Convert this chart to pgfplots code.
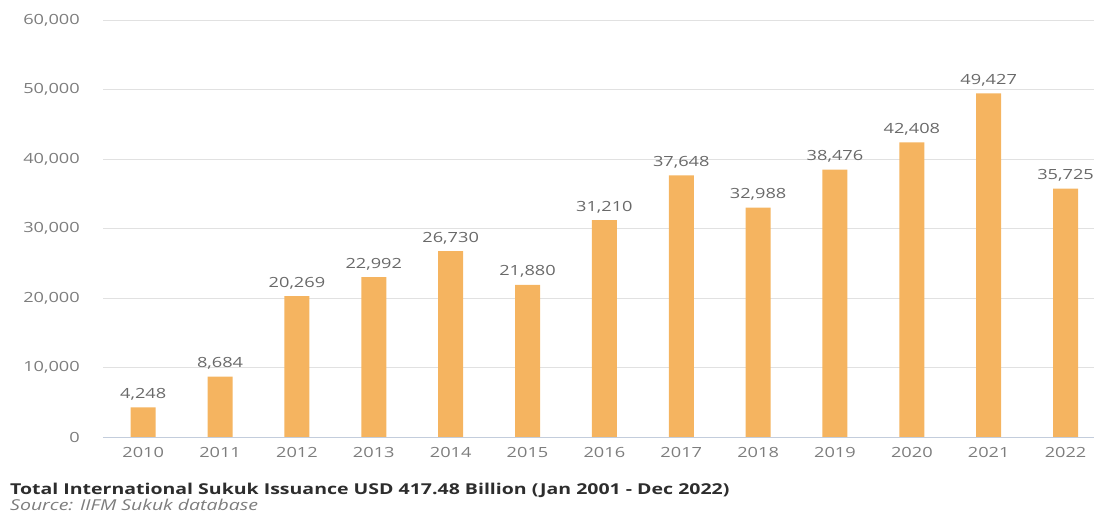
\documentclass[border=0pt]{standalone}
\usepackage{fontspec}
\setmainfont{Open Sans}[FakeStretch=1.3]
\usepackage{pgfplots}
\pgfplotsset{compat=1.18}
\definecolor{barc}{RGB}{245,180,96}
\definecolor{tickc}{RGB}{125,125,125}
\definecolor{valc}{RGB}{105,105,105}
\definecolor{gridc}{RGB}{225,225,225}
\definecolor{axc}{RGB}{195,205,220}
\definecolor{titc}{RGB}{45,45,45}
\begin{document}
\begin{tikzpicture}
\useasboundingbox (-103pt,-79pt) rectangle (991pt,437pt);
\begin{axis}[
  at={(0,0)}, anchor=south west,
  scale only axis, width=991pt, height=417pt,
  xmin=-0.523, xmax=12.37, ymin=0, ymax=60000,
  axis x line*=bottom, axis y line*=left,
  x axis line style={draw=axc, line width=0.8pt, -},
  y axis line style={draw=none},
  major tick length=0pt,
  ymajorgrids, grid style={draw=gridc, line width=0.8pt},
  ytick={0,10000,20000,30000,40000,50000,60000},
  scaled y ticks=false,
  /pgf/number format/assume math mode=true,
  yticklabel style={/pgf/number format/1000 sep={,}, anchor=east, inner sep=0pt, xshift=-23pt, text=tickc, font=\fontsize{14}{16}\selectfont},
  xtick={0,...,12},
  xticklabels={2010,2011,2012,2013,2014,2015,2016,2017,2018,2019,2020,2021,2022},
  xticklabel style={anchor=north, inner sep=0pt, yshift=-10pt, text=tickc, font=\fontsize{14}{16}\selectfont},
  ybar, bar width=25pt, bar shift=0pt,
  nodes near coords,
  nodes near coords style={/pgf/number format/1000 sep={,}, /pgf/number format/assume math mode=true, anchor=south, inner sep=0pt, yshift=7pt, text=valc, font=\fontsize{14}{16}\selectfont},
]
\addplot[draw=none, fill=barc] coordinates {
(0,4248) (1,8684) (2,20269) (3,22992) (4,26730) (5,21880) (6,31210)
(7,37648) (8,32988) (9,38476) (10,42408) (11,49427) (12,35725)};
\end{axis}
\node[anchor=base west, inner sep=0pt, text=titc, font=\fontsize{15}{17}\selectfont\bfseries] at (-93pt,-58pt) {Total International Sukuk Issuance USD 417.48 Billion (Jan 2001 - Dec 2022)};
\node[anchor=base west, inner sep=0pt, text=tickc, font=\fontsize{15}{17}\selectfont\itshape] at (-93pt,-74pt) {Source: IIFM Sukuk database};
\end{tikzpicture}
\end{document}
